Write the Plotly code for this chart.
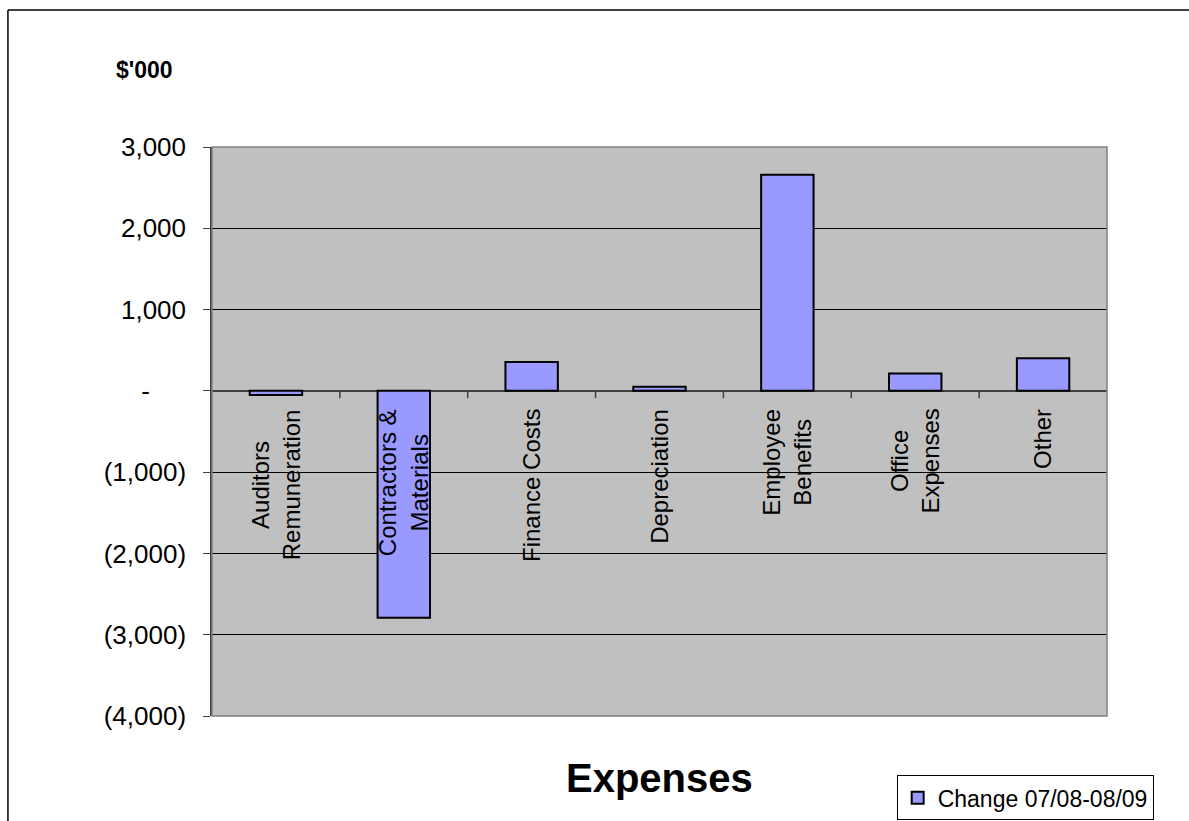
import plotly.graph_objects as go

categories = ["Auditors<br>Remuneration", "Contractors &<br>Materials", "Finance Costs",
              "Depreciation", "Employee<br>Benefits", "Office<br>Expenses", "Other"]
values = [-50, -2790, 355, 50, 2660, 215, 400]
series_name = "Change 07/08-08/09"
y_tickvals = [-4000, -3000, -2000, -1000, 0, 1000, 2000, 3000]
y_ticktext = ["(4,000)", "(3,000)", "(2,000)", "(1,000)", "-" + "\u00a0" * 5,
              "1,000", "2,000", "3,000"]

FONT = "Liberation Sans, Arial, sans-serif"

fig = go.Figure()
fig.add_trace(go.Bar(
    x=list(range(len(categories))), y=values, name=series_name,
    marker=dict(color="#9999FF", line=dict(color="black", width=2)),
    width=0.41, showlegend=True,
))

annotations = []
for i, c in enumerate(categories):
    annotations.append(dict(x=i, y=0, xref="x", yref="y", text=c, showarrow=False,
                            textangle=-90, yanchor="top", xanchor="center", yshift=-16,
                            align="center", font=dict(family=FONT, size=24, color="black")))
annotations.append(dict(x=0.5, y=-0.109, xref="paper", yref="paper", text="<b>Expenses</b>",
                        showarrow=False, xanchor="center", yanchor="middle",
                        font=dict(family=FONT, size=40, color="black")))
annotations.append(dict(x=-0.075, y=1.135, xref="paper", yref="paper", text="<b>$'000</b>",
                        showarrow=False, xanchor="center", yanchor="middle",
                        font=dict(family=FONT, size=23, color="black")))

shapes = []
# category boundary tick marks on the zero line
for i in range(1, len(categories)):
    shapes.append(dict(type="line", xref="x", yref="y", x0=i - 0.5, x1=i - 0.5,
                       y0=0, y1=-90, line=dict(color="#404040", width=1.5)))
# plot area border
shapes.append(dict(type="rect", xref="paper", yref="paper", x0=0, x1=1, y0=0, y1=1,
                   line=dict(color="#808080", width=1.5), layer="above"))
# outer chart border (left and top)
shapes.append(dict(type="line", xref="paper", yref="paper", x0=-0.228, x1=-0.228,
                   y0=-0.3, y1=1.2408, line=dict(color="black", width=1.5)))
shapes.append(dict(type="line", xref="paper", yref="paper", x0=-0.228, x1=1.2,
                   y0=1.2408, y1=1.2408, line=dict(color="black", width=1.5)))

fig.update_layout(
    width=1189, height=821,
    margin=dict(l=212, r=82, t=147, b=105, autoexpand=False),
    paper_bgcolor="white", plot_bgcolor="#C0C0C0",
    font=dict(family=FONT, color="black"),
    annotations=annotations, shapes=shapes,
    legend=dict(x=0.765, y=-0.104, xanchor="left", yanchor="top",
                bgcolor="white", bordercolor="black", borderwidth=1,
                tracegroupgap=0, itemwidth=30,
                font=dict(family=FONT, size=23, color="black")),
    xaxis=dict(range=[-0.5, len(categories) - 0.5], showticklabels=False, showgrid=False,
               zeroline=False, showline=False, ticks=""),
    yaxis=dict(range=[-4000, 3000], tickvals=y_tickvals, ticktext=y_ticktext,
               showgrid=True, gridcolor="black", gridwidth=1,
               zeroline=True, zerolinecolor="#404040", zerolinewidth=1.5,
               showline=True, linecolor="#404040", linewidth=1.5,
               ticks="outside", ticklen=7, tickcolor="#404040",
               ticklabelstandoff=12,
               tickfont=dict(family=FONT, size=26, color="black")),
)

fig.write_html("out.html")
